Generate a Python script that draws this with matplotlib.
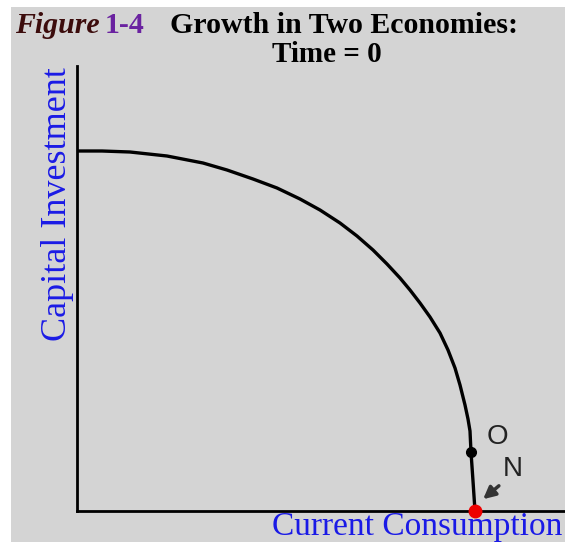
import matplotlib.pyplot as plt
from matplotlib.patches import Rectangle

# production possibilities frontier at time 0
consumption = [0, 25, 53, 90, 126, 150, 176, 200, 223, 243, 263, 280, 296, 310, 323,
               333, 343, 353, 363, 371, 378, 383, 388, 391, 393, 394, 396, 398]
investment = [360, 360, 359, 355, 348, 341, 332, 323, 312, 301, 288, 275, 261, 247, 233,
              221, 208, 194, 178, 161, 143, 126, 106, 92, 80, 59, 30, 0]

point_o = (394, 59)
point_n = (398, 0)

W, H = 565, 542
fig = plt.figure(figsize=(W / 100, H / 100), dpi=100)
fig.patch.set_facecolor('white')
fig.patches.append(Rectangle((11 / W, 0), 1, (H - 7) / H, transform=fig.transFigure,
                             facecolor='#d4d4d4', edgecolor='none', zorder=-10))

ax = fig.add_axes([77 / W, (H - 511) / H, (W - 77) / W, (511 - 66) / H])
ax.set_facecolor('none')
ax.set_xlim(0, W - 77)
ax.set_ylim(0, 511 - 66)
for s in ['top', 'right']:
    ax.spines[s].set_visible(False)
for s in ['left', 'bottom']:
    ax.spines[s].set_linewidth(2)
    ax.spines[s].set_color('black')
ax.set_xticks([])
ax.set_yticks([])

ax.plot(consumption, investment, color='black', lw=2.4,
        solid_capstyle='round', solid_joinstyle='round')
ax.plot(*point_o, 'o', color='black', ms=7, clip_on=False, zorder=5)
ax.plot(*point_n, 'o', color='#ee0000', ms=9, clip_on=False, zorder=6)

ax.text(420, 74, 'O', fontsize=20, family='Liberation Sans', color='#222222',
        ha='center', va='center')
ax.text(436, 42, 'N', fontsize=20, family='Liberation Sans', color='#222222',
        ha='center', va='center')
ax.annotate('', xy=(404, 10), xytext=(424, 27),
            arrowprops=dict(arrowstyle='-|>', color='#333333', lw=2.5, mutation_scale=18))

blue = '#1a1ae6'
serif = 'Liberation Serif'
fig.text(57 / W, 1 - 204 / H, 'Capital Investment', rotation=90, fontsize=26,
         family=serif, color=blue, ha='center', va='center')
fig.text(417 / W, 1 - 527 / H, 'Current Consumption', fontsize=24,
         family=serif, color=blue, ha='center', va='center')

# heading
fig.text(15 / W, 1 - 33 / H, 'Figure', fontsize=21.5, family=serif, weight='bold',
         style='italic', color='#3c0c0c', va='baseline')
fig.text(105 / W, 1 - 33 / H, '1-4', fontsize=21.5, family=serif, weight='bold',
         color='#6a22a0', va='baseline')
fig.text(170 / W, 1 - 33 / H, 'Growth in Two Economies:', fontsize=21.5, family=serif,
         weight='bold', color='black', va='baseline')
fig.text(327 / W, 1 - 62 / H, 'Time = 0', fontsize=21, family=serif,
         weight='bold', color='black', va='baseline', ha='center')

fig.savefig('out.png', dpi=100)
